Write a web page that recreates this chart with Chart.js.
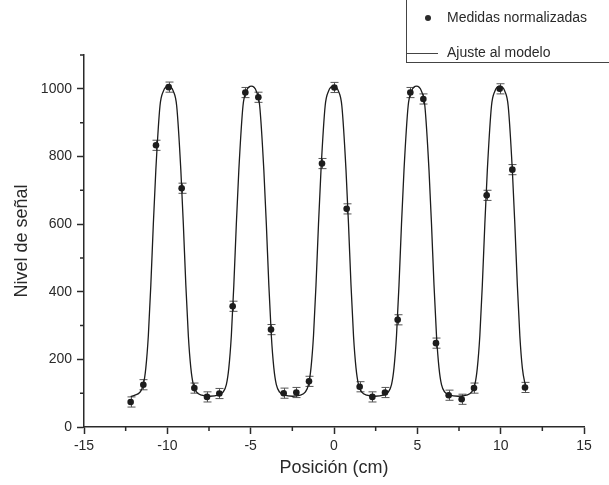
<!DOCTYPE html>
<html>
<head>
<meta charset="utf-8">
<script src="https://cdn.jsdelivr.net/npm/chart.js@4.4.1/dist/chart.umd.min.js"></script>
<style>
  body { margin: 0; background: #fff; }
  canvas { display: block; }
</style>
</head>
<body>
<canvas id="senalChart" width="609" height="485"></canvas>
<script>
// medidas
const posicion = [-12.2, -11.44, -10.68, -9.92, -9.14, -8.38, -7.62, -6.88,
                  -6.08, -5.32, -4.54, -3.78, -3.02, -2.26, -1.5, -0.72,
                  0.02, 0.76, 1.54, 2.3, 3.06, 3.82, 4.58, 5.36,
                  6.12, 6.88, 7.66, 8.4, 9.16, 9.94, 10.7, 11.46];
const senal = [74, 125, 833, 1005, 706, 115, 89, 99,
               357, 989, 975, 288, 100, 102, 135, 779,
               1004, 645, 119, 89, 102, 317, 989, 970,
               248, 94, 82, 115, 685, 1000, 761, 117];
const errorSenal = [15, 15, 15, 15, 15, 15, 15, 15,
                    15, 15, 15, 15, 15, 15, 15, 15,
                    15, 15, 15, 15, 15, 15, 15, 15,
                    15, 15, 15, 15, 15, 15, 15, 15];

// curva del ajuste
const ajusteX = [-12.2, -11.94, -11.64, -11.44, -11.29, -11.14, -10.99, -10.84, -10.69, -10.44, -10.24,
                 -9.94, -9.64, -9.44, -9.19, -9.04, -8.89, -8.74, -8.59, -8.44, -8.24, -7.94, -7.45,
                 -6.96, -6.66, -6.46, -6.31, -6.16, -6.01, -5.86, -5.71, -5.46, -5.26,
                 -4.96, -4.66, -4.46, -4.21, -4.06, -3.91, -3.76, -3.61, -3.46, -3.26, -2.96, -2.49,
                 -2.03, -1.73, -1.53, -1.38, -1.23, -1.08, -0.93, -0.78, -0.53, -0.33,
                 -0.03, 0.27, 0.47, 0.72, 0.87, 1.02, 1.17, 1.32, 1.47, 1.67, 1.97, 2.46,
                 2.95, 3.25, 3.45, 3.6, 3.75, 3.9, 4.05, 4.2, 4.45, 4.65,
                 4.95, 5.25, 5.45, 5.7, 5.85, 6.0, 6.15, 6.3, 6.45, 6.65, 6.95, 7.45,
                 7.95, 8.25, 8.45, 8.6, 8.75, 8.9, 9.05, 9.2, 9.45, 9.65,
                 9.95, 10.25, 10.45, 10.7, 10.85, 11.0, 11.15, 11.3, 11.5];
const ajusteY = [90, 94, 103, 125, 175, 270, 420, 600, 760, 950, 993,
                 1008, 993, 950, 760, 600, 420, 270, 175, 125, 103, 94, 91,
                 94, 103, 125, 175, 270, 420, 600, 760, 950, 993,
                 1008, 993, 950, 760, 600, 420, 270, 175, 125, 103, 94, 91,
                 94, 103, 125, 175, 270, 420, 600, 760, 950, 993,
                 1008, 993, 950, 760, 600, 420, 270, 175, 125, 103, 94, 91,
                 94, 103, 125, 175, 270, 420, 600, 760, 950, 993,
                 1008, 993, 950, 760, 600, 420, 270, 175, 125, 103, 94, 91,
                 94, 103, 125, 175, 270, 420, 600, 760, 950, 993,
                 1008, 993, 950, 760, 600, 420, 270, 175, 118];

const xMinor = [-12.5, -7.5, -2.5, 2.5, 7.5, 12.5];
const yMinor = [100, 300, 500, 700, 900, 1100];

const FONT = "'Liberation Sans', Arial, sans-serif";
const INK = "#2a2a2a";

// barras de error, debajo de los puntos
const errorBars = {
    id: "errorBars",
    beforeDatasetsDraw(chart) {
        const c = chart.ctx, xs = chart.scales.x, ys = chart.scales.y;
        c.save();
        c.strokeStyle = "#555";
        c.lineWidth = 1;
        for (let i = 0; i < posicion.length; i++) {
            const px = Math.round(xs.getPixelForValue(posicion[i])) + 0.5;
            const top = ys.getPixelForValue(senal[i] + errorSenal[i]);
            const bot = ys.getPixelForValue(senal[i] - errorSenal[i]);
            c.beginPath();
            c.moveTo(px, top); c.lineTo(px, bot);
            c.moveTo(px - 4, top); c.lineTo(px + 4, top);
            c.moveTo(px - 4, bot); c.lineTo(px + 4, bot);
            c.stroke();
        }
        c.restore();
    }
};

// ticks menores y cuadro de leyenda
const extras = {
    id: "extras",
    afterDraw(chart) {
        const c = chart.ctx, xs = chart.scales.x, ys = chart.scales.y;
        const area = chart.chartArea;
        c.save();
        c.strokeStyle = INK;
        c.lineWidth = 1.5;
        c.beginPath();
        xMinor.forEach(v => {
            const px = xs.getPixelForValue(v);
            c.moveTo(px, area.bottom); c.lineTo(px, area.bottom + 4);
        });
        yMinor.forEach(v => {
            const py = ys.getPixelForValue(v);
            c.moveTo(area.left, py); c.lineTo(area.left - 4, py);
        });
        c.stroke();

        const ds = chart.data.datasets;
        c.lineWidth = 1;
        c.strokeStyle = "#444";
        c.strokeRect(406.5, -1, 215, 63.5);
        c.fillStyle = INK;
        c.beginPath();
        c.arc(428, 18, 3, 0, Math.PI * 2);
        c.fill();
        c.beginPath();
        c.moveTo(407, 53.5); c.lineTo(438, 53.5);
        c.stroke();
        c.font = "14px " + FONT;
        c.textBaseline = "middle";
        c.fillText(ds[0].label, 447, 18);
        c.fillText(ds[1].label, 447, 53);
        c.restore();
    }
};

const ctx = document.getElementById("senalChart").getContext("2d");

new Chart(ctx, {
    type: "scatter",
    data: {
        datasets: [{
            label: "Medidas normalizadas",
            data: posicion.map((x, i) => ({ x: x, y: senal[i] })),
            backgroundColor: "#1c1c1c",
            borderWidth: 0,
            pointRadius: 3.3,
            order: 0
        }, {
            type: "line",
            label: "Ajuste al modelo",
            data: ajusteX.map((x, i) => ({ x: x, y: ajusteY[i] })),
            borderColor: "#1c1c1c",
            borderWidth: 1.3,
            pointRadius: 0,
            fill: false,
            cubicInterpolationMode: "monotone",
            order: 1
        }]
    },
    options: {
        responsive: false,
        animation: false,
        layout: { padding: { top: 55, right: 25, left: 0, bottom: 0 } },
        plugins: {
            legend: { display: false },
            tooltip: { enabled: false }
        },
        scales: {
            x: {
                type: "linear",
                min: -15,
                max: 15,
                afterFit(scale) { scale.height = 58; },
                ticks: {
                    stepSize: 5, padding: 4, color: INK,
                    font: { family: FONT, size: 14 },
                    callback: v => String(v)
                },
                grid: { drawOnChartArea: false, tickLength: 7, tickColor: INK, tickWidth: 1.5 },
                border: { color: INK, width: 1.5 },
                title: {
                    display: true,
                    text: "Posición (cm)",
                    color: INK,
                    font: { family: FONT, size: 18 },
                    padding: { top: 0, bottom: 6 }
                }
            },
            y: {
                min: 0,
                max: 1100,
                afterFit(scale) { scale.width = 84; },
                ticks: {
                    stepSize: 200, includeBounds: false, padding: 5, color: INK,
                    font: { family: FONT, size: 14 },
                    callback: v => String(v)
                },
                grid: { drawOnChartArea: false, tickLength: 7, tickColor: INK, tickWidth: 1.5 },
                border: { color: INK, width: 1.5 },
                title: {
                    display: true,
                    text: "Nivel de señal",
                    color: INK,
                    font: { family: FONT, size: 18 },
                    padding: { top: 11, bottom: 0 }
                }
            }
        }
    },
    plugins: [errorBars, extras]
});
</script>
</body>
</html>
